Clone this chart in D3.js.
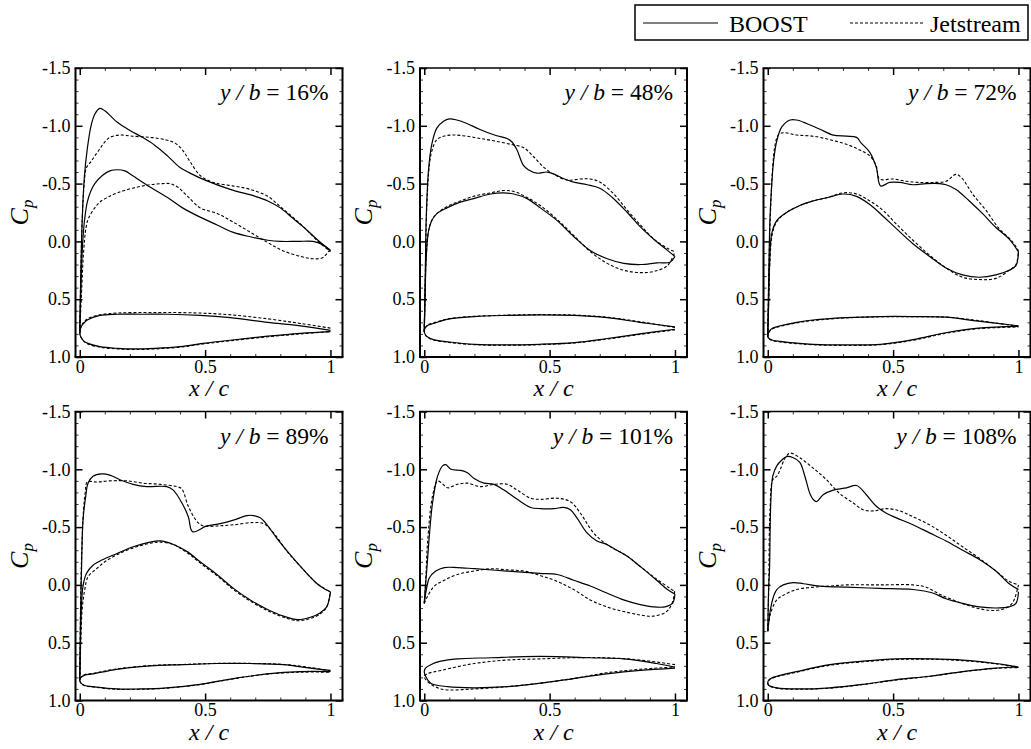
<!DOCTYPE html>
<html><head><meta charset="utf-8">
<script src="https://cdn.jsdelivr.net/npm/d3@7"></script>
<style>
html,body{margin:0;padding:0;background:#fff;}
svg{display:block;font-family:"Liberation Serif","Times New Roman",serif;}
</style></head>
<body>
<svg id="chart" width="1031" height="749"></svg>
<script>
// ---------- DATA ----------
const spanLabels = ["16%", "48%", "72%", "89%", "101%", "108%"];
const seriesNames = ["BOOST", "Jetstream"];
const yTicks = [-1.5, -1.0, -0.5, 0.0, 0.5, 1.0];
const xTicks = [0, 0.5, 1];

// y/b = 16%
const b16u = [[0,0.79],[0.004,0.3],[0.01,-0.2],[0.018,-0.55],[0.03,-0.8],[0.045,-1.0],[0.06,-1.1],[0.08,-1.15],[0.1,-1.13],[0.15,-1.03],[0.2,-0.96],[0.25,-0.9],[0.3,-0.83],[0.35,-0.74],[0.4,-0.64],[0.45,-0.58],[0.5,-0.53],[0.6,-0.45],[0.7,-0.39],[0.75,-0.35],[0.8,-0.29],[0.85,-0.2],[0.9,-0.11],[0.95,-0.01],[1.0,0.08]];
const b16l = [[0,0.79],[0.006,0.3],[0.012,0.0],[0.02,-0.2],[0.03,-0.34],[0.045,-0.44],[0.06,-0.5],[0.09,-0.57],[0.12,-0.61],[0.15,-0.62],[0.18,-0.61],[0.21,-0.57],[0.28,-0.47],[0.35,-0.38],[0.41,-0.29],[0.48,-0.21],[0.55,-0.14],[0.61,-0.08],[0.68,-0.04],[0.75,-0.01],[0.8,0.0],[0.87,0.0],[0.93,0.0],[0.97,0.03],[1.0,0.08]];
const j16u = [[0,0.79],[0.004,0.3],[0.01,-0.2],[0.018,-0.5],[0.027,-0.64],[0.045,-0.69],[0.06,-0.74],[0.08,-0.8],[0.1,-0.86],[0.12,-0.9],[0.16,-0.92],[0.21,-0.91],[0.28,-0.9],[0.34,-0.88],[0.38,-0.85],[0.41,-0.79],[0.44,-0.69],[0.48,-0.57],[0.52,-0.52],[0.55,-0.5],[0.61,-0.48],[0.68,-0.45],[0.75,-0.39],[0.8,-0.3],[0.85,-0.21],[0.9,-0.11],[0.95,0.0],[1.0,0.09]];
const j16l = [[0,0.79],[0.008,0.4],[0.015,0.1],[0.025,-0.12],[0.035,-0.2],[0.06,-0.29],[0.08,-0.34],[0.11,-0.38],[0.15,-0.42],[0.21,-0.46],[0.28,-0.49],[0.33,-0.5],[0.36,-0.5],[0.39,-0.47],[0.43,-0.39],[0.48,-0.29],[0.55,-0.24],[0.61,-0.17],[0.68,-0.08],[0.75,0.01],[0.81,0.08],[0.88,0.13],[0.93,0.15],[0.97,0.14],[1.0,0.06]];
const ab16u = [[0,0.79],[0.005,0.74],[0.015,0.71],[0.03,0.68],[0.08,0.64],[0.15,0.63],[0.25,0.63],[0.35,0.63],[0.48,0.64],[0.6,0.66],[0.75,0.7],[0.88,0.73],[1.0,0.77]];
const ab16l = [[0,0.79],[0.005,0.83],[0.015,0.86],[0.03,0.88],[0.08,0.91],[0.15,0.925],[0.22,0.93],[0.3,0.925],[0.4,0.91],[0.5,0.88],[0.6,0.855],[0.75,0.82],[0.88,0.795],[1.0,0.78]];
const aj16u = [[0,0.79],[0.005,0.74],[0.015,0.7],[0.03,0.67],[0.08,0.635],[0.15,0.62],[0.25,0.615],[0.35,0.615],[0.48,0.62],[0.6,0.635],[0.75,0.67],[0.88,0.71],[1.0,0.75]];
const aj16l = [[0,0.79],[0.005,0.83],[0.015,0.86],[0.03,0.885],[0.08,0.915],[0.15,0.93],[0.22,0.935],[0.3,0.93],[0.4,0.915],[0.5,0.885],[0.6,0.86],[0.75,0.825],[0.88,0.8],[1.0,0.78]];

// y/b = 48%
const b48u = [[0,0.78],[0.004,0.3],[0.008,-0.21],[0.017,-0.62],[0.03,-0.84],[0.05,-0.98],[0.077,-1.04],[0.1,-1.06],[0.13,-1.05],[0.17,-1.02],[0.22,-0.97],[0.28,-0.92],[0.33,-0.89],[0.35,-0.86],[0.37,-0.79],[0.395,-0.66],[0.415,-0.62],[0.45,-0.59],[0.49,-0.6],[0.52,-0.58],[0.56,-0.54],[0.6,-0.51],[0.65,-0.49],[0.7,-0.46],[0.75,-0.38],[0.81,-0.25],[0.86,-0.13],[0.92,-0.01],[0.96,0.06],[1.0,0.13]];
const b48l = [[0,0.78],[0.004,0.4],[0.008,0.13],[0.017,-0.09],[0.03,-0.18],[0.05,-0.24],[0.09,-0.29],[0.144,-0.34],[0.197,-0.37],[0.264,-0.41],[0.317,-0.42],[0.357,-0.41],[0.41,-0.37],[0.463,-0.29],[0.53,-0.18],[0.597,-0.04],[0.663,0.08],[0.73,0.15],[0.796,0.19],[0.863,0.2],[0.93,0.185],[0.98,0.18],[1.0,0.13]];
const j48u = [[0,0.78],[0.004,0.3],[0.01,-0.3],[0.02,-0.65],[0.03,-0.78],[0.05,-0.88],[0.077,-0.91],[0.117,-0.92],[0.17,-0.91],[0.224,-0.89],[0.277,-0.87],[0.344,-0.84],[0.397,-0.81],[0.437,-0.73],[0.477,-0.64],[0.517,-0.58],[0.57,-0.53],[0.623,-0.54],[0.663,-0.54],[0.703,-0.51],[0.756,-0.41],[0.81,-0.27],[0.863,-0.14],[0.916,-0.02],[0.97,0.06],[1.0,0.09]];
const j48l = [[0,0.78],[0.004,0.4],[0.008,0.13],[0.017,-0.09],[0.03,-0.18],[0.05,-0.24],[0.09,-0.3],[0.144,-0.35],[0.197,-0.39],[0.264,-0.42],[0.317,-0.44],[0.36,-0.43],[0.41,-0.38],[0.463,-0.31],[0.53,-0.19],[0.597,-0.05],[0.663,0.09],[0.73,0.19],[0.796,0.25],[0.863,0.27],[0.916,0.26],[0.97,0.21],[1.0,0.09]];
const ab48u = [[0,0.78],[0.005,0.745],[0.015,0.725],[0.037,0.71],[0.1,0.67],[0.2,0.65],[0.33,0.64],[0.46,0.635],[0.6,0.64],[0.73,0.66],[0.86,0.7],[1.0,0.74]];
const ab48l = [[0,0.78],[0.005,0.81],[0.015,0.83],[0.037,0.85],[0.1,0.87],[0.2,0.89],[0.33,0.895],[0.46,0.89],[0.6,0.875],[0.73,0.84],[0.86,0.8],[1.0,0.76]];
const aj48u = [[0,0.78],[0.005,0.745],[0.015,0.72],[0.037,0.705],[0.1,0.668],[0.2,0.648],[0.33,0.638],[0.46,0.633],[0.6,0.638],[0.73,0.656],[0.86,0.695],[1.0,0.745]];
const aj48l = [[0,0.78],[0.005,0.812],[0.015,0.833],[0.037,0.853],[0.1,0.874],[0.2,0.893],[0.33,0.898],[0.46,0.893],[0.6,0.878],[0.73,0.845],[0.86,0.805],[1.0,0.765]];

// y/b = 72%
const b72u = [[0,0.82],[0.004,0.3],[0.009,-0.21],[0.016,-0.5],[0.023,-0.69],[0.036,-0.87],[0.056,-0.99],[0.089,-1.05],[0.115,-1.05],[0.155,-1.02],[0.208,-0.97],[0.261,-0.92],[0.314,-0.91],[0.354,-0.9],[0.373,-0.85],[0.407,-0.77],[0.433,-0.64],[0.45,-0.48],[0.486,-0.51],[0.526,-0.51],[0.579,-0.49],[0.632,-0.5],[0.685,-0.5],[0.711,-0.49],[0.751,-0.45],[0.804,-0.35],[0.857,-0.24],[0.91,-0.12],[0.963,-0.02],[1.0,0.09]];
const b72l = [[0,0.82],[0.004,0.5],[0.007,0.22],[0.016,-0.07],[0.036,-0.18],[0.075,-0.25],[0.128,-0.31],[0.181,-0.35],[0.24,-0.38],[0.3,-0.41],[0.354,-0.39],[0.407,-0.32],[0.459,-0.22],[0.513,-0.11],[0.579,0.02],[0.646,0.13],[0.711,0.23],[0.777,0.29],[0.844,0.31],[0.91,0.29],[0.963,0.25],[0.99,0.21],[1.0,0.09]];
const j72u = [[0,0.82],[0.004,0.3],[0.01,-0.2],[0.02,-0.65],[0.028,-0.82],[0.042,-0.92],[0.062,-0.94],[0.115,-0.92],[0.181,-0.91],[0.248,-0.88],[0.314,-0.84],[0.367,-0.79],[0.407,-0.74],[0.433,-0.65],[0.446,-0.54],[0.5,-0.54],[0.552,-0.52],[0.605,-0.51],[0.658,-0.51],[0.711,-0.52],[0.751,-0.58],[0.777,-0.54],[0.817,-0.41],[0.87,-0.27],[0.923,-0.11],[0.975,0.0],[1.0,0.08]];
const j72l = [[0,0.82],[0.004,0.5],[0.008,0.2],[0.018,-0.06],[0.036,-0.17],[0.075,-0.25],[0.128,-0.31],[0.181,-0.35],[0.24,-0.38],[0.3,-0.42],[0.354,-0.41],[0.407,-0.35],[0.459,-0.27],[0.513,-0.15],[0.579,-0.01],[0.646,0.12],[0.711,0.23],[0.777,0.31],[0.844,0.33],[0.91,0.32],[0.963,0.25],[0.99,0.2],[1.0,0.08]];
const ab72u = [[0,0.82],[0.005,0.78],[0.02,0.75],[0.05,0.73],[0.115,0.7],[0.18,0.68],[0.31,0.66],[0.45,0.65],[0.58,0.65],[0.71,0.655],[0.84,0.69],[1.0,0.73]];
const ab72l = [[0,0.82],[0.005,0.84],[0.02,0.855],[0.05,0.865],[0.115,0.88],[0.18,0.89],[0.31,0.895],[0.45,0.89],[0.58,0.85],[0.71,0.79],[0.84,0.75],[1.0,0.735]];
const aj72u = [[0,0.82],[0.005,0.785],[0.02,0.755],[0.05,0.735],[0.115,0.705],[0.18,0.685],[0.31,0.662],[0.45,0.652],[0.58,0.652],[0.71,0.655],[0.84,0.685],[1.0,0.735]];
const aj72l = [[0,0.82],[0.005,0.843],[0.02,0.858],[0.05,0.87],[0.115,0.884],[0.18,0.894],[0.31,0.9],[0.45,0.893],[0.58,0.855],[0.71,0.795],[0.84,0.755],[1.0,0.74]];

// y/b = 89%
const b89u = [[0,0.82],[0.003,0.3],[0.007,-0.13],[0.013,-0.56],[0.024,-0.77],[0.033,-0.88],[0.053,-0.94],[0.087,-0.96],[0.12,-0.95],[0.16,-0.91],[0.213,-0.87],[0.267,-0.85],[0.347,-0.85],[0.373,-0.82],[0.407,-0.71],[0.433,-0.59],[0.45,-0.46],[0.507,-0.51],[0.56,-0.53],[0.613,-0.56],[0.667,-0.6],[0.693,-0.6],[0.72,-0.58],[0.747,-0.52],[0.787,-0.4],[0.84,-0.26],[0.893,-0.13],[0.947,-0.01],[0.98,0.04],[1.0,0.06]];
const b89l = [[0,0.82],[0.003,0.5],[0.006,0.22],[0.013,0.01],[0.027,-0.1],[0.053,-0.17],[0.093,-0.22],[0.147,-0.27],[0.213,-0.33],[0.28,-0.37],[0.32,-0.38],[0.373,-0.35],[0.427,-0.29],[0.48,-0.2],[0.547,-0.09],[0.613,0.03],[0.68,0.13],[0.747,0.21],[0.813,0.27],[0.87,0.3],[0.92,0.28],[0.96,0.24],[0.985,0.19],[1.0,0.06]];
const j89u = [[0,0.82],[0.003,0.2],[0.008,-0.3],[0.015,-0.65],[0.022,-0.8],[0.03,-0.89],[0.067,-0.89],[0.12,-0.9],[0.187,-0.9],[0.253,-0.88],[0.32,-0.87],[0.387,-0.85],[0.407,-0.83],[0.433,-0.68],[0.467,-0.55],[0.493,-0.51],[0.547,-0.51],[0.613,-0.52],[0.693,-0.54],[0.733,-0.53],[0.773,-0.45],[0.827,-0.29],[0.88,-0.16],[0.947,-0.01],[1.0,0.06]];
const j89l = [[0,0.82],[0.004,0.5],[0.01,0.2],[0.02,0.04],[0.033,-0.07],[0.067,-0.14],[0.1,-0.2],[0.147,-0.26],[0.213,-0.32],[0.28,-0.36],[0.32,-0.37],[0.373,-0.35],[0.427,-0.28],[0.48,-0.19],[0.547,-0.08],[0.613,0.04],[0.68,0.14],[0.747,0.22],[0.813,0.28],[0.87,0.31],[0.92,0.29],[0.96,0.25],[0.985,0.19],[1.0,0.06]];
const ab89u = [[0,0.82],[0.005,0.8],[0.02,0.78],[0.053,0.77],[0.147,0.73],[0.28,0.7],[0.413,0.69],[0.547,0.68],[0.68,0.68],[0.813,0.69],[0.92,0.72],[1.0,0.74]];
const ab89l = [[0,0.82],[0.005,0.85],[0.02,0.87],[0.053,0.88],[0.147,0.9],[0.24,0.9],[0.347,0.89],[0.48,0.86],[0.613,0.81],[0.747,0.77],[0.88,0.75],[1.0,0.75]];
const aj89u = [[0,0.82],[0.005,0.797],[0.02,0.776],[0.053,0.765],[0.147,0.727],[0.28,0.698],[0.413,0.688],[0.547,0.679],[0.68,0.679],[0.813,0.688],[0.92,0.715],[1.0,0.745]];
const aj89l = [[0,0.82],[0.005,0.852],[0.02,0.872],[0.053,0.883],[0.147,0.903],[0.24,0.903],[0.347,0.893],[0.48,0.862],[0.613,0.812],[0.747,0.772],[0.88,0.755],[1.0,0.755]];

// y/b = 101%
const b101u = [[0,0.16],[0.005,0.0],[0.01,-0.13],[0.02,-0.42],[0.033,-0.71],[0.053,-0.94],[0.073,-1.03],[0.086,-1.04],[0.106,-1.0],[0.146,-0.99],[0.172,-0.97],[0.199,-0.92],[0.238,-0.88],[0.278,-0.87],[0.318,-0.82],[0.371,-0.74],[0.424,-0.67],[0.464,-0.66],[0.517,-0.66],[0.556,-0.67],[0.583,-0.65],[0.609,-0.58],[0.649,-0.45],[0.689,-0.38],[0.728,-0.35],[0.768,-0.3],[0.808,-0.25],[0.861,-0.16],[0.927,-0.04],[0.97,0.04],[1.0,0.08]];
const b101l = [[0,0.16],[0.005,0.08],[0.013,-0.01],[0.02,-0.06],[0.046,-0.12],[0.08,-0.15],[0.132,-0.15],[0.2,-0.14],[0.33,-0.12],[0.46,-0.1],[0.53,-0.09],[0.596,-0.04],[0.662,0.01],[0.728,0.07],[0.795,0.13],[0.861,0.17],[0.914,0.19],[0.96,0.19],[0.99,0.16],[1.0,0.08]];
const j101u = [[0,0.16],[0.005,0.0],[0.013,-0.36],[0.033,-0.77],[0.053,-0.9],[0.07,-0.88],[0.093,-0.84],[0.132,-0.87],[0.172,-0.88],[0.225,-0.85],[0.278,-0.87],[0.331,-0.87],[0.371,-0.82],[0.424,-0.75],[0.464,-0.74],[0.53,-0.75],[0.583,-0.72],[0.623,-0.62],[0.675,-0.45],[0.728,-0.35],[0.808,-0.25],[0.861,-0.16],[0.927,-0.05],[0.98,0.03],[1.0,0.06]];
const j101l = [[0,0.16],[0.013,0.1],[0.04,0.01],[0.08,-0.04],[0.132,-0.09],[0.199,-0.12],[0.265,-0.14],[0.331,-0.13],[0.397,-0.12],[0.464,-0.08],[0.53,-0.03],[0.596,0.04],[0.662,0.13],[0.728,0.19],[0.795,0.23],[0.861,0.26],[0.914,0.27],[0.967,0.23],[0.99,0.15],[1.0,0.04]];
const ab101u = [[0,0.75],[0.005,0.72],[0.026,0.69],[0.066,0.66],[0.132,0.64],[0.265,0.63],[0.397,0.62],[0.53,0.62],[0.662,0.63],[0.795,0.64],[0.927,0.68],[1.0,0.71]];
const ab101l = [[0,0.75],[0.005,0.79],[0.026,0.85],[0.093,0.88],[0.199,0.89],[0.331,0.88],[0.464,0.85],[0.596,0.81],[0.728,0.77],[0.861,0.74],[1.0,0.72]];
const aj101u = [[0,0.79],[0.01,0.77],[0.066,0.74],[0.199,0.68],[0.331,0.65],[0.464,0.64],[0.596,0.63],[0.728,0.63],[0.861,0.65],[1.0,0.69]];
const aj101l = [[0,0.79],[0.01,0.83],[0.066,0.9],[0.199,0.9],[0.331,0.88],[0.464,0.85],[0.596,0.81],[0.728,0.76],[0.861,0.73],[1.0,0.71]];

// y/b = 108%
const b108u = [[0,0.4],[0.004,0.0],[0.007,-0.13],[0.012,-0.71],[0.02,-0.94],[0.036,-1.03],[0.056,-1.08],[0.075,-1.11],[0.102,-1.1],[0.128,-1.06],[0.148,-0.94],[0.168,-0.79],[0.181,-0.74],[0.195,-0.72],[0.221,-0.78],[0.261,-0.82],[0.314,-0.84],[0.354,-0.86],[0.393,-0.78],[0.433,-0.68],[0.473,-0.62],[0.513,-0.58],[0.579,-0.52],[0.645,-0.45],[0.711,-0.38],[0.777,-0.3],[0.844,-0.22],[0.91,-0.12],[0.963,-0.01],[1.0,0.04]];
const b108l = [[0,0.4],[0.004,0.32],[0.01,0.22],[0.023,0.1],[0.036,0.04],[0.062,0.0],[0.102,-0.02],[0.142,-0.01],[0.208,0.01],[0.314,0.02],[0.446,0.03],[0.579,0.04],[0.658,0.07],[0.711,0.12],[0.777,0.16],[0.844,0.19],[0.91,0.2],[0.963,0.19],[0.99,0.16],[1.0,0.06]];
const j108u = [[0,0.4],[0.004,0.0],[0.009,-0.65],[0.02,-0.91],[0.036,-0.94],[0.05,-1.0],[0.07,-1.1],[0.089,-1.14],[0.128,-1.1],[0.181,-1.01],[0.234,-0.91],[0.287,-0.79],[0.34,-0.71],[0.38,-0.65],[0.42,-0.64],[0.473,-0.66],[0.526,-0.64],[0.579,-0.59],[0.645,-0.52],[0.711,-0.43],[0.777,-0.33],[0.844,-0.23],[0.91,-0.12],[0.963,-0.03],[1.0,0.0]];
const j108l = [[0,0.4],[0.006,0.3],[0.015,0.22],[0.036,0.13],[0.062,0.09],[0.115,0.04],[0.181,0.02],[0.248,0.01],[0.314,0.0],[0.446,0.0],[0.579,0.0],[0.632,0.02],[0.685,0.08],[0.751,0.14],[0.817,0.19],[0.884,0.22],[0.937,0.21],[0.975,0.16],[1.0,0.0]];
const ab108u = [[0,0.85],[0.005,0.82],[0.036,0.79],[0.115,0.75],[0.248,0.69],[0.38,0.66],[0.513,0.64],[0.645,0.64],[0.777,0.65],[0.91,0.68],[1.0,0.71]];
const ab108l = [[0,0.85],[0.005,0.87],[0.036,0.89],[0.115,0.9],[0.248,0.89],[0.38,0.86],[0.513,0.82],[0.645,0.79],[0.777,0.75],[0.91,0.72],[1.0,0.71]];
const aj108u = [[0,0.85],[0.005,0.825],[0.036,0.795],[0.115,0.755],[0.248,0.695],[0.38,0.665],[0.513,0.645],[0.645,0.643],[0.777,0.655],[0.91,0.683],[1.0,0.715]];
const aj108l = [[0,0.85],[0.005,0.872],[0.036,0.893],[0.115,0.903],[0.248,0.893],[0.38,0.862],[0.513,0.823],[0.645,0.792],[0.777,0.752],[0.91,0.722],[1.0,0.715]];

// ---------- LAYOUT ----------
const colLeft = [75.5, 420, 763.5];
const rowTop = [68, 411.5];
const frameW = 267, frameH = 289;

const panels = [
  {label: spanLabels[0], b: [b16u, b16l], j: [j16u, j16l], ab: [ab16u, ab16l], aj: [aj16u, aj16l]},
  {label: spanLabels[1], b: [b48u, b48l], j: [j48u, j48l], ab: [ab48u, ab48l], aj: [aj48u, aj48l]},
  {label: spanLabels[2], b: [b72u, b72l], j: [j72u, j72l], ab: [ab72u, ab72l], aj: [aj72u, aj72l]},
  {label: spanLabels[3], b: [b89u, b89l], j: [j89u, j89l], ab: [ab89u, ab89l], aj: [aj89u, aj89l]},
  {label: spanLabels[4], b: [b101u, b101l], j: [j101u, j101l], ab: [ab101u, ab101l], aj: [aj101u, aj101l]},
  {label: spanLabels[5], b: [b108u, b108l], j: [j108u, j108l], ab: [ab108u, ab108l], aj: [aj108u, aj108l]}
];

const svg = d3.select("#chart");
const DASH = "3,2";
const SERIF = "Liberation Serif, Times New Roman, serif";
const minorX = d3.range(0, 11).map(i => i / 10).filter(v => v !== 0 && v !== 0.5 && v !== 1);
const minorY = d3.range(-15, 11).map(i => i / 10).filter(v => Math.abs(v * 2 - Math.round(v * 2)) > 1e-6);

panels.forEach((p, i) => {
  const L = colLeft[i % 3], T = rowTop[Math.floor(i / 3)];
  const x = d3.scaleLinear().domain([-0.017, 1.048]).range([L, L + frameW]);
  const y = d3.scaleLinear().domain([-1.5, 1.0]).range([T, T + frameH]);
  const g = svg.append("g");

  const fmtY = d => d.toFixed(1);
  const fmtX = d => String(d);
  const addAxis = (axis, tr) => {
    const a = g.append("g").attr("transform", tr).call(axis);
    a.attr("font-family", SERIF);
    a.select(".domain").remove();
    a.selectAll("line").attr("stroke", "#000");
    return a;
  };
  // major ticks (inward)
  const axL = addAxis(d3.axisLeft(y).tickValues(yTicks).tickFormat(fmtY).tickSize(-7).tickPadding(5), `translate(${L},0)`);
  axL.selectAll("line").attr("stroke-width", 1.5);
  axL.selectAll("text").attr("font-size", 18).attr("fill", "#000");
  const axB = addAxis(d3.axisBottom(x).tickValues(xTicks).tickFormat(fmtX).tickSize(-7).tickPadding(3), `translate(0,${T + frameH})`);
  axB.selectAll("line").attr("stroke-width", 1.5);
  axB.selectAll("text").attr("font-size", 18).attr("fill", "#000");
  const axR = addAxis(d3.axisRight(y).tickValues(yTicks).tickFormat("").tickSize(-7), `translate(${L + frameW},0)`);
  axR.selectAll("line").attr("stroke-width", 1.5);
  const axT = addAxis(d3.axisTop(x).tickValues(xTicks).tickFormat("").tickSize(-7), `translate(0,${T})`);
  axT.selectAll("line").attr("stroke-width", 1.5);
  // minor ticks
  [
    [d3.axisLeft(y).tickValues(minorY), `translate(${L},0)`],
    [d3.axisRight(y).tickValues(minorY), `translate(${L + frameW},0)`],
    [d3.axisBottom(x).tickValues(minorX), `translate(0,${T + frameH})`],
    [d3.axisTop(x).tickValues(minorX), `translate(0,${T})`]
  ].forEach(([ax, tr]) => {
    const a = addAxis(ax.tickFormat("").tickSize(-3), tr);
    a.selectAll("line").attr("stroke-width", 0.8);
  });

  // frame
  g.append("line").attr("x1", L).attr("x2", L).attr("y1", T).attr("y2", T + frameH).attr("stroke", "#000").attr("stroke-width", 2);
  g.append("line").attr("x1", L + frameW).attr("x2", L + frameW).attr("y1", T).attr("y2", T + frameH).attr("stroke", "#000").attr("stroke-width", 2);
  g.append("line").attr("x1", L - 1).attr("x2", L + frameW + 1).attr("y1", T + frameH).attr("y2", T + frameH).attr("stroke", "#000").attr("stroke-width", 2);
  g.append("line").attr("x1", L - 1).attr("x2", L + frameW + 1).attr("y1", T).attr("y2", T).attr("stroke", "#000").attr("stroke-width", 1.5);

  // curves
  const line = d3.line().x(d => x(d[0])).y(d => y(d[1])).curve(d3.curveCatmullRom.alpha(0.5));
  const loop = (u, l) => u.slice().reverse().concat(l.slice(1));
  const draw = (data, dashed) => g.append("path").attr("d", line(data)).attr("fill", "none")
    .attr("stroke", "#000").attr("stroke-width", dashed ? 1.1 : 1.2)
    .attr("stroke-dasharray", dashed ? DASH : null);
  draw(p.b[0], false); draw(p.b[1], false);
  draw(p.j[0], true); draw(p.j[1], true);
  draw(loop(p.ab[0], p.ab[1]), false);
  draw(loop(p.aj[0], p.aj[1]), true);

  // annotation
  const ann = g.append("text").attr("x", L + frameW - 14).attr("y", T + 32).attr("text-anchor", "end")
    .attr("font-size", 23.5).attr("fill", "#000");
  ann.append("tspan").attr("font-style", "italic").text("y / b");
  ann.append("tspan").text(" = " + p.label);

  // axis titles
  g.append("text").attr("x", x(0.5) + 4).attr("y", T + frameH + 39).attr("text-anchor", "middle")
    .attr("font-size", 24).attr("font-style", "italic").attr("fill", "#000").text("x / c");
  const cy = T + frameH / 2;
  const yt = g.append("text").attr("transform", `translate(${L - 48},${cy}) rotate(-90)`)
    .attr("text-anchor", "middle").attr("font-size", 26).attr("font-style", "italic").attr("fill", "#000");
  yt.append("tspan").text("C");
  yt.append("tspan").attr("font-size", 17).attr("dy", 5).text("p");
});

// legend
const lg = svg.append("g");
lg.append("rect").attr("x", 635).attr("y", 5).attr("width", 393).attr("height", 35)
  .attr("fill", "#fff").attr("stroke", "#000").attr("stroke-width", 1.5);
lg.append("line").attr("x1", 643).attr("x2", 718).attr("y1", 23).attr("y2", 23).attr("stroke", "#000").attr("stroke-width", 1.2);
lg.append("text").attr("x", 729).attr("y", 32).attr("font-size", 24).attr("fill", "#000").text(seriesNames[0]);
lg.append("line").attr("x1", 850).attr("x2", 923).attr("y1", 23).attr("y2", 23).attr("stroke", "#000").attr("stroke-width", 1.1).attr("stroke-dasharray", DASH);
lg.append("text").attr("x", 930).attr("y", 32).attr("font-size", 24).attr("fill", "#000").text(seriesNames[1]);
</script>
</body></html>
